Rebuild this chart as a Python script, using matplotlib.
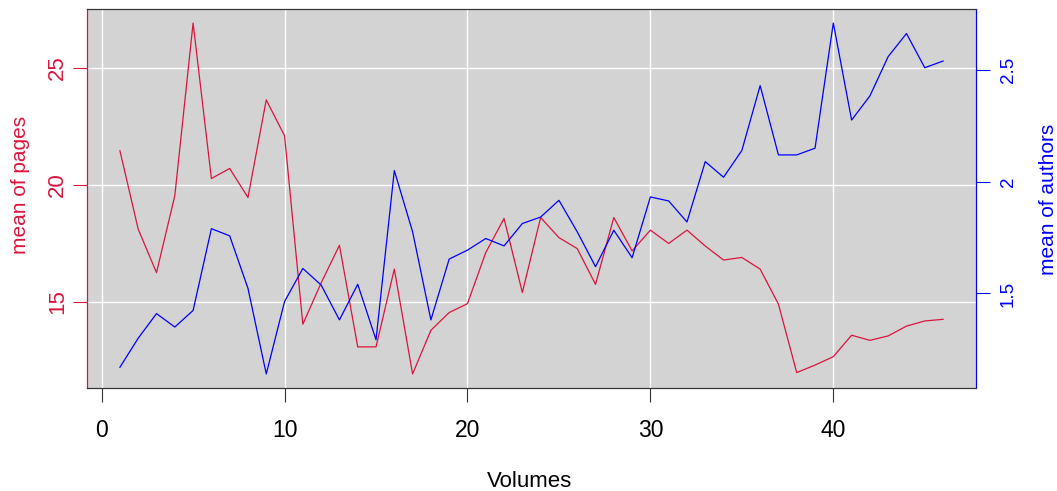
import matplotlib
matplotlib.use("Agg")
import matplotlib.pyplot as plt

plt.rcParams['font.family'] = ['Liberation Sans', 'DejaVu Sans']

volumes = list(range(1, 47))
mean_pages = [21.46, 18.1, 16.24, 19.53, 26.93, 20.27, 20.7, 19.46, 23.64, 22.1,
              14.03, 15.8, 17.41, 13.06, 13.06, 16.39, 11.9, 13.77, 14.53, 14.91,
              17.1, 18.56, 15.39, 18.6, 17.74, 17.27, 15.74, 18.6, 17.17, 18.06,
              17.49, 18.06, 17.38, 16.78, 16.89, 16.39, 14.89, 11.96, 12.28, 12.64,
              13.56, 13.34, 13.53, 13.95, 14.17, 14.24]
mean_authors = [1.17, 1.30, 1.41, 1.35, 1.424, 1.79, 1.758, 1.523, 1.14, 1.464,
                1.612, 1.538, 1.382, 1.541, 1.293, 2.05, 1.776, 1.382, 1.654, 1.694,
                1.746, 1.713, 1.813, 1.842, 1.917, 1.776, 1.62, 1.783, 1.66, 1.932,
                1.914, 1.82, 2.09, 2.02, 2.14, 2.43, 2.12, 2.12, 2.15, 2.71,
                2.276, 2.384, 2.56, 2.663, 2.51, 2.54]

red = '#DC143C'
blue = '#0000FF'
W, H = 1057, 491

fig = plt.figure(figsize=(W / 100, H / 100), dpi=100)
ax = fig.add_axes([87/W, 1 - 388/H, (976-87)/W, (388-9)/H])
ax.set_facecolor('#D3D3D3')
ax.plot(volumes, mean_pages, color=red, lw=0.9)

# R style axis limits (4% padding)
def padded(vals):
    lo, hi = min(vals), max(vals)
    d = (hi - lo) * 0.04
    return lo - d, hi + d

ax.set_xlim(padded(volumes))
ax.set_ylim(padded(mean_pages))
ax.set_xticks([0, 10, 20, 30, 40])
ax.set_yticks([15, 20, 25])
ax.grid(True, color='white', lw=1.0)
ax.set_axisbelow(True)

ax.tick_params(axis='x', length=10, width=0.8, color='#333333', labelsize=16.5, pad=12.5)
ax.tick_params(axis='y', length=10, width=0.8, color=red, labelcolor=red, labelsize=16, pad=3.8)
for lab in ax.get_yticklabels():
    lab.set_rotation(90)
    lab.set_va('center')

ax2 = ax.twinx()
ax2.plot(volumes, mean_authors, color=blue, lw=0.9)
ax2.set_ylim(padded(mean_authors))
ax2.set_yticks([1.5, 2, 2.5])
ax2.set_yticklabels(['1.5', '2', '2.5'])
ax2.tick_params(axis='y', length=10, width=0.8, color=blue, labelcolor=blue, labelsize=13.5, pad=7.2)
for lab in ax2.get_yticklabels():
    lab.set_rotation(90)
    lab.set_va('center')

for a in (ax, ax2):
    for s in a.spines.values():
        s.set_linewidth(0.8)
        s.set_color('#333333')
    a.spines['left'].set_color(red)
    a.spines['right'].set_color(blue)

fig.text(530/W, 1 - 487/H, 'Volumes', fontsize=16, ha='center', va='baseline')
fig.text(21/W, 1 - 185/H, 'mean of pages', fontsize=15, color=red,
         rotation=90, ha='center', va='center')
fig.text(1048/W, 1 - 199/H, 'mean of authors', fontsize=15, color=blue,
         rotation=90, ha='center', va='center')

fig.savefig('out.png', dpi=100)
